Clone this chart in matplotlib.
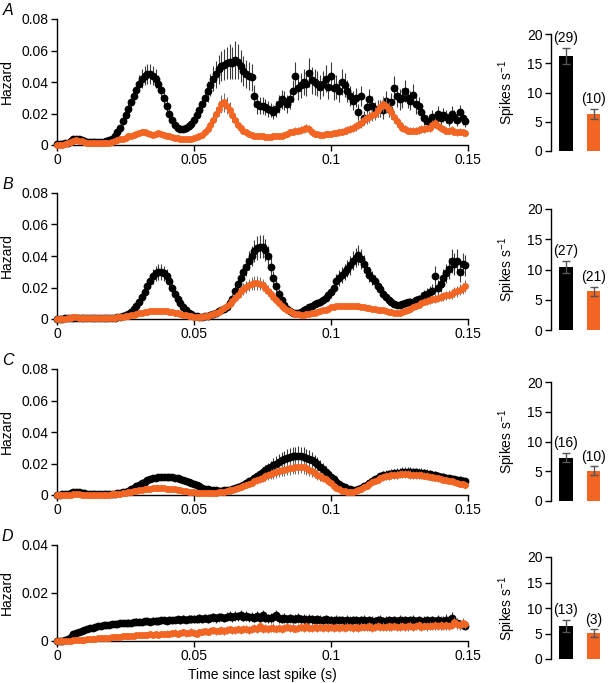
import matplotlib
matplotlib.use("Agg")
import matplotlib.pyplot as plt
import numpy as np

plt.rcParams['font.family'] = ['Liberation Sans', 'DejaVu Sans']
plt.rcParams['mathtext.fontset'] = 'custom'
plt.rcParams['mathtext.rm'] = 'Liberation Sans'
plt.rcParams['mathtext.default'] = 'regular'

# 1 ms bins, hazard values given in units of 1e-3
bin_width = 0.001
n_bins = 150

# ---- panel A ----
haz_a_black = [0.5, 0.5, 0.8, 1.0, 1.5, 2.5, 3.5, 4.0, 3.5, 3.0,
               2.5, 2.0, 2.0, 1.8, 1.8, 1.8, 2.0, 2.0, 2.5, 3.0,
               4.0, 5.5, 8.0, 11, 15, 19, 23, 27, 31, 35,
               39, 42, 44, 45, 45, 44, 42, 39, 35, 30,
               25, 20, 16, 13, 11, 10, 10, 10.5, 12, 13.5,
               16, 19, 22, 26, 30, 34, 38, 42, 45, 48,
               50, 51, 52, 53, 52, 54, 53, 50, 47, 45,
               44, 43, 31, 26, 25, 25, 24, 23, 22, 21,
               23, 26, 29, 28, 26, 29, 34, 44, 36, 38,
               40, 39, 46, 41, 40, 39, 37, 39, 42, 37,
               44, 36, 37, 34, 40, 38, 34, 31, 28, 30,
               21, 31, 17, 24, 29, 25, 22, 23, 23, 22,
               28, 23, 27, 36, 31, 29, 30, 34, 30, 28,
               32, 26, 25, 21, 17, 15, 14, 18, 16, 20,
               17, 19, 18, 16, 20, 18, 16, 21, 17, 15]
err_a_black = [0.3, 0.3, 0.4, 0.4, 0.5, 0.6, 0.8, 0.8, 0.7, 0.6,
               0.5, 0.5, 0.5, 0.4, 0.4, 0.4, 0.5, 0.5, 0.6, 0.7,
               0.9, 1.2, 1.6, 2.0, 2.6, 3.0, 3.5, 4.0, 4.5, 5.0,
               5.5, 6.0, 6.0, 6.5, 6.5, 6.0, 6.0, 5.5, 5.0, 4.5,
               4.0, 3.5, 3.0, 2.5, 2.2, 2.0, 2.0, 2.0, 2.2, 2.5,
               3.0, 3.5, 4.0, 4.5, 5.5, 6.5, 7.0, 8.0, 8.5, 9.0,
               9.5, 10, 10, 11, 10, 12, 11, 10, 9.5, 9.0,
               9.0, 8.5, 7.0, 6.0, 5.5, 5.5, 5.0, 5.0, 4.5, 4.5,
               5.0, 5.5, 6.0, 6.0, 5.5, 6.0, 7.0, 9.0, 7.5, 8.0,
               8.0, 8.0, 9.0, 8.5, 8.0, 8.0, 7.5, 8.0, 8.5, 7.5,
               9.0, 7.5, 7.5, 7.0, 8.0, 7.5, 7.0, 6.5, 6.0, 6.0,
               5.0, 6.5, 4.5, 5.5, 6.5, 6.0, 5.5, 5.5, 5.5, 5.5,
               6.5, 5.5, 6.0, 7.5, 7.0, 6.5, 6.5, 7.0, 6.5, 6.0,
               6.5, 6.0, 5.5, 5.0, 4.5, 4.0, 4.0, 4.5, 4.0, 4.5,
               4.0, 4.5, 4.0, 4.0, 4.5, 4.0, 4.0, 4.5, 4.0, 3.5]
haz_a_orange = [0.0, 0.0, 0.2, 0.5, 1.0, 2.0, 2.8, 3.0, 2.8, 2.3,
                1.8, 1.5, 1.2, 1.0, 1.0, 1.0, 1.0, 1.0, 1.2, 1.5,
                2.0, 2.5, 3.0, 3.5, 4.0, 4.5, 5.5, 6.0, 6.5, 7.0,
                7.5, 8.0, 8.0, 7.5, 7.0, 6.5, 7.0, 7.5, 7.0, 6.5,
                6.0, 5.5, 5.0, 4.5, 4.5, 4.0, 4.0, 4.0, 4.0, 4.0,
                4.5, 5.0, 5.5, 6.5, 8.0, 10, 13, 16, 20, 23,
                26, 27, 25, 22, 19, 16, 13, 11, 9.0, 8.0,
                7.0, 6.5, 6.0, 5.5, 5.5, 5.5, 5.0, 5.0, 5.0, 5.5,
                5.5, 5.5, 6.0, 6.5, 7.0, 8.0, 8.5, 9.0, 9.0, 9.5,
                10, 11, 10, 8.0, 7.0, 7.0, 6.5, 6.5, 7.0, 7.0,
                7.0, 7.5, 7.5, 8.0, 8.5, 9.0, 9.5, 10, 11, 12,
                13, 14, 16, 17, 18, 19, 20, 22, 24, 26,
                25, 23, 21, 18, 15, 13, 11, 10, 9.0, 9.0,
                9.0, 9.0, 9.5, 10, 10, 10.5, 11, 13, 14, 12,
                11, 10, 9.0, 9.0, 9.5, 8.5, 8.0, 8.5, 8.0, 7.5]
err_a_orange = [0.2, 0.2, 0.2, 0.3, 0.4, 0.6, 0.8, 0.8, 0.7, 0.6,
                0.5, 0.4, 0.4, 0.3, 0.3, 0.3, 0.3, 0.3, 0.4, 0.4,
                0.5, 0.6, 0.7, 0.8, 0.9, 1.0, 1.2, 1.3, 1.4, 1.5,
                1.6, 1.7, 1.7, 1.6, 1.5, 1.4, 1.5, 1.6, 1.5, 1.4,
                1.3, 1.2, 1.1, 1.0, 1.0, 0.9, 0.9, 0.9, 0.9, 0.9,
                1.0, 1.1, 1.2, 1.4, 1.8, 2.2, 2.8, 3.4, 4.2, 4.8,
                5.5, 6.0, 5.5, 5.0, 4.5, 3.8, 3.2, 2.6, 2.2, 2.0,
                1.8, 1.7, 1.6, 1.5, 1.5, 1.5, 1.4, 1.4, 1.4, 1.5,
                1.5, 1.5, 1.6, 1.7, 1.8, 2.0, 2.1, 2.2, 2.2, 2.3,
                2.4, 2.6, 2.4, 2.0, 1.8, 1.8, 1.7, 1.7, 1.8, 1.8,
                1.8, 1.9, 1.9, 2.0, 2.1, 2.2, 2.3, 2.4, 2.6, 2.8,
                3.0, 3.2, 3.5, 3.7, 3.9, 4.0, 4.2, 4.5, 4.8, 5.0,
                4.8, 4.5, 4.2, 3.8, 3.3, 3.0, 2.6, 2.4, 2.2, 2.2,
                2.2, 2.2, 2.3, 2.4, 2.4, 2.5, 2.6, 2.9, 3.0, 2.7,
                2.5, 2.3, 2.2, 2.2, 2.3, 2.1, 2.0, 2.1, 2.0, 1.9]

# ---- panel B ----
haz_b_black = [0.2, 0.2, 0.3, 0.4, 0.5, 0.6, 0.8, 0.8, 0.7, 0.6,
               0.5, 0.5, 0.4, 0.4, 0.4, 0.4, 0.4, 0.5, 0.5, 0.6,
               0.7, 0.8, 1.0, 1.3, 1.7, 2.3, 3.0, 4.5, 6.5, 8.5,
               11, 14, 17, 21, 24, 27, 29, 30, 30, 29,
               27, 24, 20, 16, 13, 10, 7.5, 5.5, 4.0, 3.0,
               2.2, 1.8, 1.5, 1.5, 1.6, 1.8, 2.3, 3.0, 4.0, 5.0,
               5.5, 6.5, 7.5, 10, 13, 18, 22, 26, 30, 33,
               37, 40, 43, 45, 46, 46, 44, 40, 33, 26,
               21, 16, 12, 9.0, 6.5, 5.0, 4.0, 3.5, 4.0, 4.5,
               5.5, 6.5, 7.5, 8.5, 9.5, 10, 11, 12, 13.5, 15,
               17, 20, 24, 26, 28, 30, 32, 34, 37, 39,
               40.5, 38, 35, 31, 28, 26, 24, 21, 19, 16,
               14, 12, 10.5, 9.5, 9.0, 9.0, 9.5, 10, 10.5, 11,
               11, 12, 12.5, 13, 15, 16, 17, 18, 27, 20,
               22, 26, 29, 32, 37, 35, 37, 30, 35, 34]
err_b_black = [0.2, 0.2, 0.2, 0.3, 0.3, 0.4, 0.5, 0.5, 0.4, 0.4,
               0.3, 0.3, 0.3, 0.3, 0.3, 0.3, 0.3, 0.3, 0.3, 0.4,
               0.4, 0.5, 0.6, 0.7, 0.8, 1.0, 1.2, 1.5, 1.8, 2.2,
               2.6, 3.0, 3.4, 3.8, 4.2, 4.5, 4.8, 5.0, 5.0, 4.8,
               4.5, 4.2, 3.8, 3.2, 2.8, 2.2, 1.8, 1.4, 1.1, 0.9,
               0.7, 0.6, 0.5, 0.5, 0.5, 0.6, 0.7, 0.8, 1.0, 1.2,
               1.3, 1.5, 1.8, 2.2, 2.8, 3.5, 4.0, 4.5, 5.0, 5.5,
               6.0, 6.5, 7.0, 7.5, 7.5, 7.5, 7.0, 6.5, 5.5, 4.5,
               3.8, 3.0, 2.4, 1.8, 1.4, 1.2, 1.0, 0.9, 1.0, 1.1,
               1.3, 1.5, 1.7, 1.9, 2.1, 2.3, 2.5, 2.7, 3.0, 3.3,
               3.6, 4.0, 4.5, 4.8, 5.0, 5.2, 5.5, 5.8, 6.0, 6.2,
               6.5, 6.2, 5.8, 5.2, 4.8, 4.5, 4.2, 3.8, 3.4, 3.0,
               2.6, 2.3, 2.1, 2.0, 2.0, 2.0, 2.1, 2.2, 2.3, 2.4,
               2.5, 2.7, 2.9, 3.1, 3.4, 3.6, 3.8, 4.0, 6.5, 4.5,
               4.8, 5.5, 6.0, 6.5, 7.5, 7.0, 7.5, 6.5, 7.0, 6.8]
haz_b_orange = [0.1, 0.1, 0.2, 0.3, 0.5, 0.7, 1.0, 1.0, 0.9, 0.8,
                0.7, 0.6, 0.6, 0.5, 0.5, 0.5, 0.5, 0.6, 0.6, 0.7,
                0.8, 0.9, 1.0, 1.2, 1.4, 1.7, 2.0, 2.4, 2.8, 3.2,
                3.6, 4.0, 4.3, 4.6, 4.8, 5.0, 5.1, 5.2, 5.2, 5.1,
                5.0, 4.7, 4.4, 4.0, 3.6, 3.1, 2.7, 2.3, 1.9, 1.6,
                1.4, 1.3, 1.3, 1.4, 1.6, 1.9, 2.3, 2.9, 3.6, 4.5,
                5.5, 6.8, 8.2, 9.8, 11.5, 13.5, 15.5, 17.5, 19, 20.5,
                21.5, 22.5, 23, 23, 22.5, 21.5, 20, 18, 16, 14,
                12, 10, 8.5, 7.0, 5.8, 4.8, 4.0, 3.4, 3.0, 2.8,
                2.8, 3.0, 3.3, 3.7, 4.1, 4.6, 5.0, 5.5, 5.9, 6.3,
                7.4, 7.8, 8.1, 8.3, 8.4, 8.5, 8.5, 8.5, 8.4, 8.2,
                8.0, 7.8, 7.5, 7.2, 6.9, 6.6, 6.3, 6.0, 5.7, 5.4,
                4.9, 4.6, 4.3, 4.1, 4.0, 4.1, 4.4, 5.0, 5.7, 6.5,
                7.4, 8.3, 9.2, 10, 11, 11.5, 12, 12.5, 13, 13.5,
                14, 14.5, 15, 15.5, 16, 17, 17.5, 18.5, 19.5, 21]
err_b_orange = [0.1, 0.1, 0.1, 0.2, 0.2, 0.3, 0.3, 0.3, 0.3, 0.3,
                0.2, 0.2, 0.2, 0.2, 0.2, 0.2, 0.2, 0.2, 0.2, 0.2,
                0.3, 0.3, 0.3, 0.4, 0.4, 0.5, 0.5, 0.6, 0.7, 0.7,
                0.8, 0.8, 0.9, 0.9, 0.9, 1.0, 1.0, 1.0, 1.0, 1.0,
                0.9, 0.9, 0.8, 0.8, 0.7, 0.7, 0.6, 0.5, 0.5, 0.4,
                0.4, 0.4, 0.4, 0.4, 0.5, 0.5, 0.6, 0.7, 0.8, 1.0,
                1.2, 1.4, 1.7, 2.0, 2.3, 2.6, 3.0, 3.3, 3.6, 3.8,
                4.0, 4.2, 4.3, 4.3, 4.2, 4.0, 3.8, 3.5, 3.1, 2.7,
                2.3, 2.0, 1.7, 1.4, 1.2, 1.0, 0.9, 0.8, 0.7, 0.7,
                0.7, 0.7, 0.8, 0.9, 1.0, 1.1, 1.1, 1.2, 1.3, 1.3,
                1.4, 1.4, 1.5, 1.5, 1.5, 1.6, 1.6, 1.6, 1.6, 1.6,
                1.5, 1.5, 1.5, 1.4, 1.4, 1.3, 1.3, 1.2, 1.2, 1.1,
                1.1, 1.0, 1.0, 1.0, 1.0, 1.0, 1.1, 1.2, 1.3, 1.5,
                1.6, 1.8, 1.9, 2.0, 2.2, 2.3, 2.4, 2.5, 2.6, 2.7,
                2.8, 2.9, 3.0, 3.1, 3.2, 3.3, 3.4, 3.5, 3.6, 3.8]

# ---- panel C ----
haz_c_black = [0.2, 0.3, 0.4, 0.6, 0.9, 1.3, 1.8, 2.0, 1.8, 1.4,
               1.0, 0.8, 0.6, 0.5, 0.5, 0.5, 0.5, 0.5, 0.5, 0.6,
               0.7, 0.8, 1.0, 1.3, 1.7, 2.2, 2.8, 3.6, 4.5, 5.5,
               6.5, 7.5, 8.5, 9.3, 10, 10.6, 11, 11.3, 11.4, 11.4,
               11.4, 11.3, 11.2, 11, 10.7, 10.3, 9.8, 9.2, 8.5, 7.8,
               7.0, 6.2, 5.4, 4.7, 4.1, 3.6, 3.2, 3.0, 2.9, 2.8,
               2.8, 2.9, 3.0, 3.3, 3.7, 4.2, 4.9, 5.7, 6.6, 7.6,
               8.7, 9.8, 11, 12.2, 13.4, 14.6, 15.8, 17, 18, 19,
               20, 21, 22, 22.8, 23.4, 24, 24.5, 24.8, 25, 24.8,
               24.4, 23.8, 23, 22, 20.8, 19.4, 18, 16.4, 14.8, 13.2,
               11.6, 10, 8.5, 7.0, 5.8, 4.8, 4.0, 3.5, 3.3, 3.4,
               3.8, 4.5, 5.5, 6.6, 7.8, 9.0, 10, 11, 11.8, 12.5,
               13, 13.4, 13.6, 13.8, 14, 14.2, 14.5, 14.6, 14.6, 14.5,
               14.4, 14.3, 14.2, 14, 13.8, 13.5, 13.2, 12.8, 12.4, 12,
               11.6, 11.2, 10.8, 10.5, 10.2, 10, 9.8, 9.5, 9.2, 8.8]
err_c_black = [0.2, 0.2, 0.3, 0.3, 0.4, 0.5, 0.6, 0.6, 0.6, 0.5,
               0.4, 0.3, 0.3, 0.2, 0.2, 0.2, 0.2, 0.2, 0.2, 0.3,
               0.3, 0.3, 0.4, 0.4, 0.5, 0.6, 0.7, 0.8, 0.9, 1.0,
               1.1, 1.2, 1.3, 1.4, 1.4, 1.5, 1.5, 1.5, 1.5, 1.5,
               1.5, 1.5, 1.5, 1.4, 1.4, 1.4, 1.3, 1.3, 1.2, 1.2,
               1.1, 1.0, 0.9, 0.8, 0.7, 0.7, 0.6, 0.6, 0.6, 0.6,
               0.6, 0.6, 0.7, 0.7, 0.8, 0.9, 1.0, 1.1, 1.3, 1.5,
               1.7, 1.9, 2.1, 2.4, 2.7, 3.0, 3.3, 3.6, 3.9, 4.2,
               4.5, 4.8, 5.1, 5.3, 5.5, 5.7, 5.8, 5.9, 6.0, 5.9,
               5.8, 5.6, 5.4, 5.1, 4.8, 4.5, 4.2, 3.9, 3.5, 3.1,
               2.8, 2.5, 2.2, 1.9, 1.6, 1.4, 1.2, 1.1, 1.0, 1.0,
               1.1, 1.2, 1.3, 1.5, 1.7, 1.9, 2.1, 2.3, 2.4, 2.5,
               2.6, 2.7, 2.8, 2.8, 2.9, 2.9, 3.0, 3.0, 3.0, 3.0,
               3.0, 3.0, 3.0, 2.9, 2.9, 2.8, 2.8, 2.7, 2.7, 2.6,
               2.6, 2.5, 2.5, 2.4, 2.4, 2.3, 2.3, 2.3, 2.2, 2.2]
haz_c_orange = [0.0, 0.0, 0.1, 0.1, 0.2, 0.3, 0.4, 0.4, 0.4, 0.3,
                0.3, 0.3, 0.2, 0.2, 0.2, 0.2, 0.2, 0.2, 0.3, 0.3,
                0.4, 0.5, 0.6, 0.8, 1.0, 1.3, 1.6, 2.0, 2.4, 2.8,
                3.1, 3.4, 3.7, 3.9, 4.1, 4.2, 4.3, 4.3, 4.3, 4.2,
                4.1, 4.0, 3.8, 3.6, 3.3, 3.0, 2.7, 2.4, 2.1, 1.8,
                1.6, 1.4, 1.3, 1.2, 1.2, 1.2, 1.3, 1.4, 1.5, 1.7,
                1.9, 2.2, 2.5, 2.9, 3.3, 3.8, 4.3, 4.9, 5.5, 6.2,
                7.0, 7.8, 8.6, 9.4, 10.2, 11, 11.8, 12.5, 13.2, 13.8,
                14.4, 15, 15.6, 16.1, 16.6, 17, 17.4, 17.7, 17.9, 18,
                17.6, 17, 16, 15, 14, 13, 12, 11, 10, 9,
                7.5, 6.0, 4.7, 3.6, 2.8, 2.3, 2.0, 2.0, 2.2, 2.6,
                3.2, 4.0, 5.0, 6.0, 7.0, 8.0, 9.0, 9.8, 10.6, 11.3,
                11.9, 12.3, 12.6, 12.8, 13, 13.1, 13.2, 13.2, 13.1, 13,
                12.9, 12.8, 12.7, 12.5, 12.3, 12, 11.7, 11.3, 10.9, 10.5,
                10.1, 9.7, 9.3, 9.0, 8.6, 8.2, 7.8, 7.3, 6.8, 6.3]
err_c_orange = [0.1, 0.1, 0.1, 0.1, 0.1, 0.2, 0.2, 0.2, 0.2, 0.2,
                0.1, 0.1, 0.1, 0.1, 0.1, 0.1, 0.1, 0.1, 0.1, 0.2,
                0.2, 0.2, 0.3, 0.3, 0.4, 0.4, 0.5, 0.5, 0.6, 0.6,
                0.7, 0.7, 0.8, 0.8, 0.8, 0.8, 0.8, 0.8, 0.8, 0.8,
                0.8, 0.8, 0.7, 0.7, 0.7, 0.6, 0.6, 0.5, 0.5, 0.5,
                0.4, 0.4, 0.4, 0.4, 0.4, 0.4, 0.4, 0.4, 0.5, 0.5,
                0.6, 0.6, 0.7, 0.8, 0.9, 1.0, 1.1, 1.2, 1.3, 1.5,
                1.6, 1.8, 2.0, 2.2, 2.4, 2.6, 2.8, 3.0, 3.2, 3.4,
                3.6, 3.7, 3.8, 3.9, 4.0, 4.1, 4.2, 4.2, 4.3, 4.3,
                4.2, 4.0, 3.8, 3.6, 3.4, 3.2, 3.0, 2.8, 2.6, 2.4,
                2.1, 1.8, 1.5, 1.2, 1.0, 0.9, 0.8, 0.8, 0.8, 0.9,
                1.0, 1.1, 1.3, 1.5, 1.7, 1.9, 2.0, 2.1, 2.2, 2.3,
                2.4, 2.5, 2.5, 2.6, 2.6, 2.6, 2.6, 2.6, 2.6, 2.6,
                2.6, 2.5, 2.5, 2.5, 2.4, 2.4, 2.3, 2.3, 2.2, 2.2,
                2.1, 2.1, 2.0, 2.0, 1.9, 1.9, 1.8, 1.8, 1.7, 1.7]

# ---- panel D ----
haz_d_black = [0.0, 0.0, 0.1, 0.3, 0.8, 1.8, 2.8, 3.4, 3.9, 4.3,
               4.7, 5.0, 5.3, 5.6, 5.9, 6.2, 6.4, 6.5, 6.7, 6.8,
               7.0, 7.1, 7.2, 7.3, 7.5, 7.6, 7.7, 7.6, 7.9, 8.0,
               8.1, 7.9, 8.2, 8.3, 8.1, 8.4, 8.5, 8.3, 8.6, 8.7,
               8.5, 8.8, 8.6, 8.9, 9.0, 8.8, 9.1, 8.9, 9.2, 9.0,
               9.3, 9.1, 9.4, 9.2, 9.5, 9.3, 9.6, 9.8, 9.4, 9.9,
               10, 9.6, 10.2, 10.4, 9.9, 10.6, 10.3, 10.8, 10.2, 10.5,
               9.8, 10.1, 9.6, 10.4, 9.5, 11, 9.7, 9.4, 9.6, 9.8,
               10.8, 9.5, 9.3, 9.6, 9.2, 9.4, 9.1, 9.3, 9.6, 9.0,
               9.2, 8.9, 9.3, 9.0, 8.8, 9.1, 8.9, 8.6, 9.0, 8.7,
               8.8, 8.5, 8.9, 8.6, 8.7, 8.4, 8.8, 8.5, 8.7, 8.6,
               8.3, 8.6, 8.9, 8.4, 8.7, 8.5, 8.2, 8.6, 8.8, 8.4,
               8.5, 8.7, 8.3, 8.6, 8.4, 8.8, 8.5, 8.7, 8.3, 8.6,
               8.9, 8.4, 8.6, 8.2, 8.5, 8.7, 8.3, 8.6, 8.4, 8.8,
               8.5, 8.3, 8.9, 8.6, 9.6, 8.0, 7.5, 7.0, 6.7, 6.3]
err_d_black = [0.0, 0.1, 0.1, 0.2, 0.4, 0.6, 0.7, 0.8, 0.8, 0.9,
               0.9, 1.0, 1.0, 1.0, 1.0, 1.1, 1.1, 1.1, 1.1, 1.2,
               1.2, 1.2, 1.2, 1.2, 1.3, 1.3, 1.3, 1.3, 1.3, 1.4,
               1.4, 1.4, 1.4, 1.4, 1.4, 1.5, 1.5, 1.5, 1.5, 1.5,
               1.5, 1.5, 1.5, 1.6, 1.6, 1.6, 1.6, 1.6, 1.6, 1.7,
               1.7, 1.7, 1.7, 1.7, 1.7, 1.8, 1.8, 1.8, 1.8, 1.8,
               1.8, 1.8, 1.9, 2.0, 1.8, 2.1, 1.9, 2.2, 1.9, 2.0,
               1.8, 1.9, 1.8, 2.0, 1.8, 2.1, 1.9, 1.8, 1.9, 1.9,
               2.1, 1.9, 1.8, 1.9, 1.8, 1.9, 1.8, 1.9, 1.9, 1.8,
               1.9, 1.8, 1.9, 1.8, 1.8, 1.9, 1.8, 1.8, 1.9, 1.8,
               1.8, 1.8, 1.9, 1.8, 1.8, 1.8, 1.9, 1.8, 1.8, 1.8,
               1.8, 1.8, 1.9, 1.8, 1.8, 1.8, 1.8, 1.8, 1.9, 1.8,
               1.8, 1.9, 1.8, 1.8, 1.8, 1.9, 1.8, 1.9, 1.8, 1.8,
               1.9, 1.8, 1.8, 1.8, 1.8, 1.9, 1.8, 1.8, 1.8, 1.9,
               2.0, 2.1, 2.2, 2.0, 2.3, 2.0, 1.9, 1.8, 1.7, 1.6]
haz_d_orange = [0.0, 0.0, 0.0, 0.1, 0.1, 0.2, 0.3, 0.3, 0.4, 0.5,
                0.6, 0.7, 0.8, 0.9, 1.0, 1.1, 1.2, 1.3, 1.3, 1.4,
                1.5, 1.6, 1.7, 1.8, 1.9, 2.0, 2.0, 2.1, 2.2, 2.3,
                2.4, 2.3, 2.6, 2.5, 2.8, 2.6, 2.9, 2.7, 3.0, 2.8,
                3.1, 2.9, 3.2, 3.4, 3.0, 3.3, 3.6, 3.2, 3.5, 3.8,
                3.4, 2.9, 3.6, 3.9, 4.0, 3.7, 4.2, 4.4, 4.0, 4.3,
                4.6, 4.2, 4.5, 4.8, 4.4, 4.7, 5.0, 4.6, 4.9, 5.1,
                4.7, 5.0, 5.3, 4.9, 6.2, 5.1, 5.4, 5.0, 5.3, 5.6,
                5.2, 5.5, 5.1, 5.4, 5.7, 5.3, 5.6, 5.2, 5.5, 5.8,
                5.4, 6.2, 5.6, 5.3, 5.7, 5.5, 5.8, 5.4, 5.9, 5.6,
                5.7, 5.4, 5.8, 5.5, 5.9, 5.6, 6.0, 5.7, 5.5, 5.9,
                5.6, 6.0, 5.7, 5.8, 6.1, 5.6, 5.9, 6.2, 5.7, 6.0,
                5.8, 6.1, 5.9, 6.3, 5.7, 6.0, 6.2, 5.8, 6.1, 6.4,
                5.9, 6.2, 6.6, 6.0, 6.3, 6.1, 6.4, 6.2, 6.5, 6.3,
                6.6, 6.2, 6.5, 6.3, 6.8, 8.0, 7.2, 6.6, 7.4, 7.0]
err_d_orange = [0.0, 0.0, 0.0, 0.1, 0.1, 0.2, 0.2, 0.3, 0.3, 0.4,
                0.4, 0.5, 0.5, 0.6, 0.6, 0.6, 0.7, 0.7, 0.7, 0.8,
                0.8, 0.8, 0.9, 0.9, 0.9, 1.0, 1.0, 1.0, 1.1, 1.1,
                1.1, 1.1, 1.2, 1.1, 1.2, 1.2, 1.3, 1.2, 1.3, 1.2,
                1.3, 1.3, 1.4, 1.4, 1.3, 1.4, 1.5, 1.4, 1.4, 1.5,
                1.4, 1.3, 1.4, 1.5, 1.5, 1.4, 1.5, 1.6, 1.5, 1.5,
                1.6, 1.5, 1.6, 1.6, 1.5, 1.6, 1.7, 1.6, 1.6, 1.7,
                1.6, 1.6, 1.7, 1.6, 1.9, 1.7, 1.7, 1.6, 1.7, 1.7,
                1.6, 1.7, 1.6, 1.7, 1.7, 1.6, 1.7, 1.6, 1.7, 1.7,
                1.6, 1.8, 1.7, 1.6, 1.7, 1.7, 1.7, 1.6, 1.7, 1.7,
                1.7, 1.6, 1.7, 1.7, 1.7, 1.7, 1.8, 1.7, 1.7, 1.7,
                1.7, 1.8, 1.7, 1.7, 1.8, 1.7, 1.7, 1.8, 1.7, 1.8,
                1.7, 1.8, 1.7, 1.8, 1.7, 1.8, 1.8, 1.7, 1.8, 1.8,
                1.7, 1.8, 1.9, 1.8, 1.8, 1.8, 1.8, 1.8, 1.9, 1.8,
                1.9, 1.8, 1.9, 1.8, 1.9, 2.2, 2.0, 1.9, 2.0, 1.9]

# ---- firing rates (bar insets) ----
rate_black = [16.2, 10.4, 7.3, 6.4]
rate_black_err = [1.4, 1.0, 0.8, 1.2]
rate_orange = [6.3, 6.4, 5.1, 5.1]
rate_orange_err = [0.9, 0.7, 0.7, 0.7]
n_black = ['(29)', '(27)', '(16)', '(13)']
n_orange = ['(10)', '(21)', '(10)', '(3)']

panel_letters = ['A', 'B', 'C', 'D']
haz_ymax = [0.08, 0.08, 0.08, 0.04]
haz_yticks = [[0, 0.02, 0.04, 0.06, 0.08]] * 3 + [[0, 0.02, 0.04]]
haz_yticklabels = [['0', '0.02', '0.04', '0.06', '0.08']] * 3 + [['0', '0.02', '0.04']]
time_ticks = [0, 0.05, 0.1, 0.15]
time_ticklabels = ['0', '0.05', '0.1', '0.15']
rate_ticks = [0, 5, 10, 15, 20]

black_series = [(haz_a_black, err_a_black), (haz_b_black, err_b_black),
                (haz_c_black, err_c_black), (haz_d_black, err_d_black)]
orange_series = [(haz_a_orange, err_a_orange), (haz_b_orange, err_b_orange),
                 (haz_c_orange, err_c_orange), (haz_d_orange, err_d_orange)]

ORANGE = '#F26522'
EBAR = '#3a3a3a'
FS = 10

t = np.arange(n_bins) * bin_width

W, H = 610, 683
fig = plt.figure(figsize=(W / 100, H / 100), dpi=100)

# pixel boxes (top, bottom) for each row
haz_rows = [(19, 145), (193, 319), (369, 495), (545, 641)]
bar_rows = [(34, 151), (209, 330), (382, 501), (557, 659)]
haz_x = (57, 468)
bar_x = (551, 606)


def px_axes(x0, x1, top, bottom):
    return fig.add_axes([x0 / W, 1 - bottom / H, (x1 - x0) / W, (bottom - top) / H])


def style(ax):
    for s in ['top', 'right']:
        ax.spines[s].set_visible(False)
    for s in ['left', 'bottom']:
        ax.spines[s].set_linewidth(1.0)
    ax.tick_params(direction='out', length=4, width=1.0, labelsize=FS, pad=2)


for i in range(4):
    ax = px_axes(haz_x[0], haz_x[1], *haz_rows[i])
    style(ax)
    yb, eb = black_series[i]
    yo, eo = orange_series[i]
    ax.errorbar(t, np.array(yb) * 1e-3, yerr=np.array(eb) * 1e-3, fmt='o',
                color='black', ms=5.6, mew=0, ecolor=EBAR, elinewidth=0.8,
                capsize=0, clip_on=False, zorder=2)
    ax.errorbar(t, np.array(yo) * 1e-3, yerr=np.array(eo) * 1e-3, fmt='o',
                color=ORANGE, ms=5.0, mew=0, ecolor='#6b6b6b', elinewidth=0.7,
                capsize=0, clip_on=False, zorder=3)
    ax.set_xlim(0, 0.15)
    ax.set_ylim(0, haz_ymax[i])
    ax.set_xticks(time_ticks, labels=time_ticklabels)
    ax.set_yticks(haz_yticks[i], labels=haz_yticklabels[i])
    ax.set_ylabel('Hazard', fontsize=FS)
    ax.yaxis.set_label_coords(-0.104, 0.5)
    ax.annotate(panel_letters[i], (-0.12, 1.0), xycoords='axes fraction',
                xytext=(0, 6), textcoords='offset points',
                fontsize=11.5, style='italic', ha='center', va='center')
    if i == 3:
        ax.set_xlabel('Time since last spike (s)', fontsize=FS, labelpad=3)

    bx = px_axes(bar_x[0], bar_x[1], *bar_rows[i])
    style(bx)
    bx.spines['bottom'].set_visible(False)
    bx.tick_params(axis='x', bottom=False, labelbottom=False)
    bx.bar([0, 1], [rate_black[i], rate_orange[i]], width=0.5,
           color=['black', ORANGE])
    bx.errorbar([0, 1], [rate_black[i], rate_orange[i]],
                yerr=[rate_black_err[i], rate_orange_err[i]], fmt='none',
                ecolor='#555555', elinewidth=1.0, capsize=3, capthick=1.0)
    bx.set_xlim(-0.54, 1.45)
    bx.set_ylim(0, 20)
    bx.set_yticks(rate_ticks)
    bx.set_ylabel('Spikes s$^{-1}$', fontsize=FS)
    bx.yaxis.set_label_coords(-0.6, 0.5)
    for x, v, e, lab in [(0, rate_black[i], rate_black_err[i], n_black[i]),
                         (1, rate_orange[i], rate_orange_err[i], n_orange[i])]:
        bx.annotate(lab, (x, v + e), xytext=(0, 2), textcoords='offset points',
                    ha='center', va='bottom', fontsize=FS, annotation_clip=False)

fig.savefig('out.png', dpi=100)
